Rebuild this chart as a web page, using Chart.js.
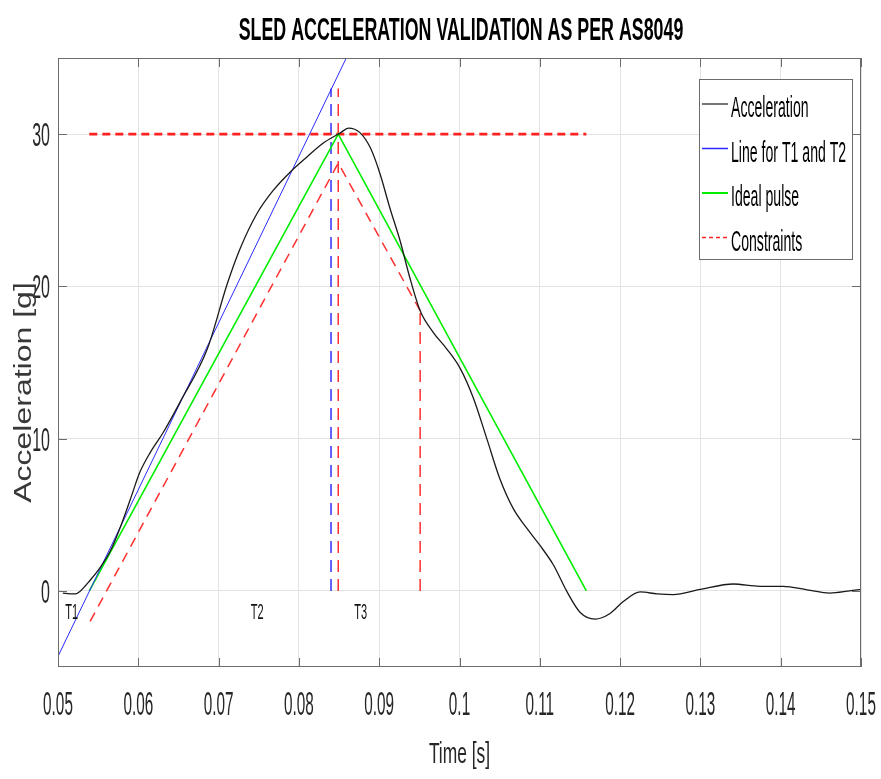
<!DOCTYPE html>
<html>
<head>
<meta charset="utf-8">
<script src="https://cdn.jsdelivr.net/npm/chart.js@4.4.0/dist/chart.umd.min.js"></script>
<style>
  html, body { margin: 0; padding: 0; background: #fff; }
  canvas { display: block; }
</style>
</head>
<body>
<canvas id="sled" width="881" height="779"></canvas>
<script>
// measured sled pulse (time in s, acceleration in g)
const accelTime = [0.0506, 0.0515, 0.0522, 0.0527, 0.0540, 0.0552, 0.0565, 0.0577, 0.0590, 0.0602,
  0.0615, 0.0631, 0.0652, 0.0686, 0.0711, 0.0727, 0.0748, 0.0768, 0.0789, 0.0810,
  0.0830, 0.0851, 0.0862, 0.0876, 0.0889, 0.0901, 0.0913, 0.0926, 0.0938, 0.0951,
  0.0967, 0.0984, 0.1001, 0.1017, 0.1034, 0.1050, 0.1067, 0.1084, 0.1100, 0.1117,
  0.1134, 0.1150, 0.1169, 0.1187, 0.1204, 0.1225, 0.1246, 0.1266, 0.1300, 0.1341,
  0.1374, 0.1403, 0.1433, 0.1461, 0.1486, 0.1500];
const accelG = [-0.15, -0.2, -0.2, -0.05, 0.7, 1.5, 2.6, 4.1, 6.0, 7.8,
  9.1, 10.4, 12.4, 15.9, 20.2, 22.5, 24.8, 26.3, 27.5, 28.5,
  29.4, 30.06, 30.4, 30.1, 29.1, 27.4, 25.2, 23.0, 20.6, 18.4,
  17.0, 15.9, 14.6, 12.7, 10.0, 7.4, 5.4, 4.1, 3.0, 1.7,
  -0.07, -1.4, -1.85, -1.5, -0.7, -0.07, -0.2, -0.25, 0.1, 0.45,
  0.3, 0.3, 0.07, -0.15, 0.0, 0.1];

// tangent used to find T1 and T2
const tangentTime = [0.05, 0.0859];
const tangentG = [-4.3, 35];
const t2MarkTime = [0.0840, 0.0840];
const t2MarkG = [0, 33];

// ideal triangular pulse
const idealTime = [0.0539, 0.0849, 0.1158];
const idealG = [0, 30, 0];

// corridor constraints
const peakLineTime = [0.0539, 0.1158];
const peakLineG = [30, 30];
const lowerTime = [0.0540, 0.0849, 0.0951];
const lowerG = [-2, 28.1, 18.4];
const peakMarkTime = [0.0849, 0.0849];
const peakMarkG = [0, 33];
const endMarkTime = [0.0951, 0.0951];
const endMarkG = [0, 18.4];

// T1 / T2 / T3 annotations
const tagNames = ['T1', 'T2', 'T3'];
const tagTime = [0.0517, 0.0748, 0.0877];
const tagG = [-1.35, -1.35, -1.35];

const xTicks = [0.05, 0.06, 0.07, 0.08, 0.09, 0.1, 0.11, 0.12, 0.13, 0.14, 0.15];
const xTickLabels = ['0.05', '0.06', '0.07', '0.08', '0.09', '0.1', '0.11', '0.12', '0.13', '0.14', '0.15'];
const yTicks = [0, 10, 20, 30];
const yTickLabels = ['0', '10', '20', '30'];

const pts = (xs, ys) => xs.map((x, i) => ({ x: x, y: ys[i] }));

const FONT = "'Liberation Sans', Arial, sans-serif";

// narrow text: the whole figure uses horizontally condensed lettering
function squeezed(ctx, text, x, y, o) {
  ctx.save();
  ctx.translate(x, y);
  if (o.rotate) ctx.rotate(o.rotate);
  ctx.scale(o.sx || 1, o.sy || 1);
  ctx.font = (o.weight || 'normal') + ' ' + o.size + 'px ' + FONT;
  ctx.fillStyle = o.color || '#000';
  ctx.textAlign = o.align || 'center';
  ctx.textBaseline = o.baseline || 'alphabetic';
  ctx.fillText(text, 0, 0);
  ctx.restore();
}

const frame = {
  id: 'frame',
  beforeDraw(chart) {
    const ctx = chart.ctx;
    ctx.save();
    ctx.fillStyle = '#fff';
    ctx.fillRect(0, 0, chart.width, chart.height);
    ctx.restore();
  },
  afterDraw(chart) {
    const ctx = chart.ctx;
    const a = chart.chartArea;
    const xs = chart.scales.x, ys = chart.scales.y;

    // box and inward ticks
    ctx.save();
    ctx.strokeStyle = '#6b6b6b';
    ctx.lineWidth = 1;
    ctx.strokeRect(a.left + 0.5, a.top + 0.5, a.right - a.left - 1, a.bottom - a.top - 1);
    ctx.beginPath();
    xTicks.forEach(v => {
      const px = Math.round(xs.getPixelForValue(v)) + 0.5;
      ctx.moveTo(px, a.bottom); ctx.lineTo(px, a.bottom - 9);
      ctx.moveTo(px, a.top); ctx.lineTo(px, a.top + 9);
    });
    yTicks.forEach(v => {
      const py = Math.round(ys.getPixelForValue(v)) + 0.5;
      ctx.moveTo(a.left, py); ctx.lineTo(a.left + 9, py);
      ctx.moveTo(a.right, py); ctx.lineTo(a.right - 9, py);
    });
    ctx.stroke();
    ctx.restore();

    // tick labels
    xTicks.forEach((v, i) => {
      squeezed(ctx, xTickLabels[i], xs.getPixelForValue(v), a.bottom + 48,
        { size: 34, sx: 0.45, color: '#262626' });
    });
    yTicks.forEach((v, i) => {
      squeezed(ctx, yTickLabels[i], a.left - 8, ys.getPixelForValue(v) + 12,
        { size: 34, sx: 0.47, align: 'right', color: '#262626' });
    });

    // axis titles and chart title
    squeezed(ctx, 'Time [s]', (a.left + a.right) / 2, a.bottom + 96,
      { size: 30, sx: 0.58, color: '#262626' });
    squeezed(ctx, 'Acceleration [g]', 31, (a.top + a.bottom) / 2 + 30,
      { size: 32, sy: 0.72, rotate: -Math.PI / 2, color: '#383838' });
    squeezed(ctx, 'SLED ACCELERATION VALIDATION AS PER AS8049', 461, 40,
      { size: 31, sx: 0.575, weight: 'bold', color: '#000' });

    // T1 / T2 / T3
    tagNames.forEach((t, i) => {
      squeezed(ctx, t, xs.getPixelForValue(tagTime[i]), ys.getPixelForValue(tagG[i]) + 8,
        { size: 22, sx: 0.5, color: '#111' });
    });

    // legend box in the upper right corner
    const items = chart.data.datasets.filter(d => d.label);
    const bx = a.right - 162, by = a.top + 21, bw = 153, bh = 180;
    ctx.save();
    ctx.fillStyle = '#fff';
    ctx.fillRect(bx, by, bw, bh);
    ctx.strokeStyle = '#6b6b6b';
    ctx.lineWidth = 1;
    ctx.strokeRect(bx + 0.5, by + 0.5, bw, bh);
    items.forEach((d, i) => {
      const ly = by + 25 + i * 44.5;
      ctx.beginPath();
      ctx.strokeStyle = d.borderColor;
      ctx.lineWidth = d.legendWidth || 1.5;
      ctx.setLineDash(d.borderDash ? [4, 3] : []);
      ctx.moveTo(bx + 3, ly); ctx.lineTo(bx + 29, ly);
      ctx.stroke();
      ctx.setLineDash([]);
      squeezed(ctx, d.label, bx + 32, ly + 13, { size: 30, sx: 0.47, align: 'left', color: '#000' });
    });
    ctx.restore();
  }
};

const thin = { pointRadius: 0, fill: false };

new Chart(document.getElementById('sled'), {
  type: 'line',
  data: {
    datasets: [
      { ...thin, label: 'Acceleration', data: pts(accelTime, accelG), borderColor: '#1a1a1a',
        borderWidth: 1.3, cubicInterpolationMode: 'monotone', legendWidth: 1.2 },
      { ...thin, label: 'Line for T1 and T2', data: pts(tangentTime, tangentG), borderColor: '#2b2bff',
        borderWidth: 1, legendWidth: 1.5 },
      { ...thin, label: 'Ideal pulse', data: pts(idealTime, idealG), borderColor: '#00ee00',
        borderWidth: 1.6, legendWidth: 2 },
      { ...thin, label: 'Constraints', data: pts(peakLineTime, peakLineG), borderColor: '#ff2020',
        borderWidth: 2.6, borderDash: [8, 5], legendWidth: 1.5 },
      { ...thin, data: pts(lowerTime, lowerG), borderColor: '#ff3030', borderWidth: 1.5, borderDash: [10, 7] },
      { ...thin, data: pts(peakMarkTime, peakMarkG), borderColor: '#ff3030', borderWidth: 1.5, borderDash: [12, 7] },
      { ...thin, data: pts(endMarkTime, endMarkG), borderColor: '#ff3030', borderWidth: 1.5, borderDash: [12, 7] },
      { ...thin, data: pts(t2MarkTime, t2MarkG), borderColor: '#3030ff', borderWidth: 1.5, borderDash: [12, 7] }
    ]
  },
  options: {
    responsive: false,
    animation: false,
    events: [],
    layout: { padding: { left: 58, right: 20, top: 58, bottom: 112 } },
    plugins: { legend: { display: false }, tooltip: { enabled: false }, title: { display: false } },
    scales: {
      x: {
        type: 'linear', min: 0.05, max: 0.15,
        afterBuildTicks: s => { s.ticks = xTicks.map(v => ({ value: v })); },
        ticks: { display: false },
        grid: { color: '#e3e3e3', drawTicks: false },
        border: { display: false }
      },
      y: {
        type: 'linear', min: -5, max: 35,
        afterBuildTicks: s => { s.ticks = yTicks.map(v => ({ value: v })); },
        ticks: { display: false },
        grid: { color: '#e3e3e3', drawTicks: false },
        border: { display: false }
      }
    }
  },
  plugins: [frame]
});
</script>
</body>
</html>
